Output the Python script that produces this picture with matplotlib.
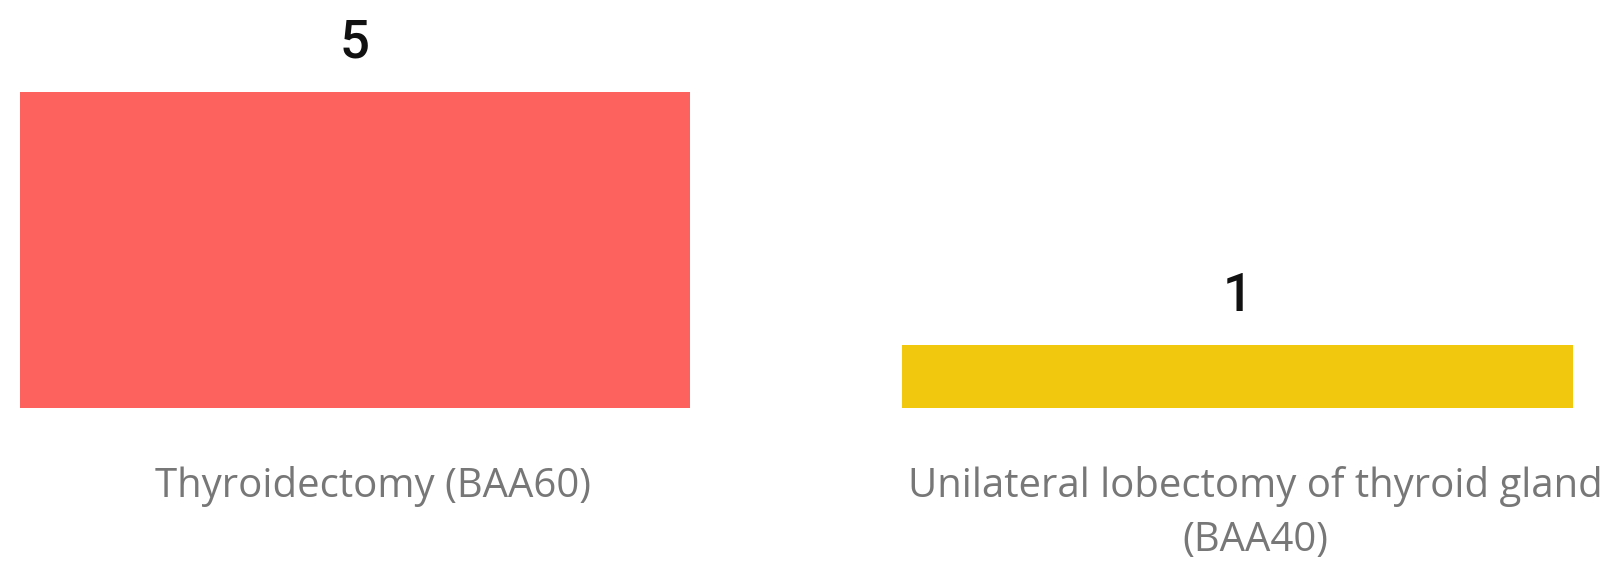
import matplotlib
matplotlib.use("Agg")
import matplotlib.pyplot as plt
import matplotlib.transforms as mtransforms

categories = ["Thyroidectomy (BAA60)", "Unilateral lobectomy of thyroid gland\n(BAA40)"]
counts = [5, 1]
bar_colors = ["#FD625E", "#F2C80F"]

fig = plt.figure(figsize=(16.19, 5.61), dpi=100)
ax = fig.add_axes([0, 0.2727, 1, 0.7273])

x = list(range(len(categories)))
bars = ax.bar(x, counts, width=0.76, color=bar_colors)
ax.set_xlim(-0.4023, 1.4323)
ax.set_ylim(0, 6.456)

# data labels above each bar
for rect, v in zip(bars, counts):
    ax.annotate(str(v), (rect.get_x() + rect.get_width() / 2, rect.get_height()),
                xytext=(0, 35), textcoords="offset points", ha="center", va="center",
                fontsize=38, color="#111111", family="Roboto", fontweight="medium")

ax.set_xticks(x)
ax.set_xticklabels(categories, fontsize=28.9, color="#777777", family="Open Sans",
                   linespacing=1.44)
ax.tick_params(axis="x", length=0, pad=42)
# category labels sit a little right of the bar centres
shift = mtransforms.ScaledTranslation(0.18, 0, fig.dpi_scale_trans)
for lbl in ax.get_xticklabels():
    lbl.set_transform(lbl.get_transform() + shift)
ax.set_yticks([])
for s in ax.spines.values():
    s.set_visible(False)

fig.savefig("out.png", dpi=100, facecolor="white")
